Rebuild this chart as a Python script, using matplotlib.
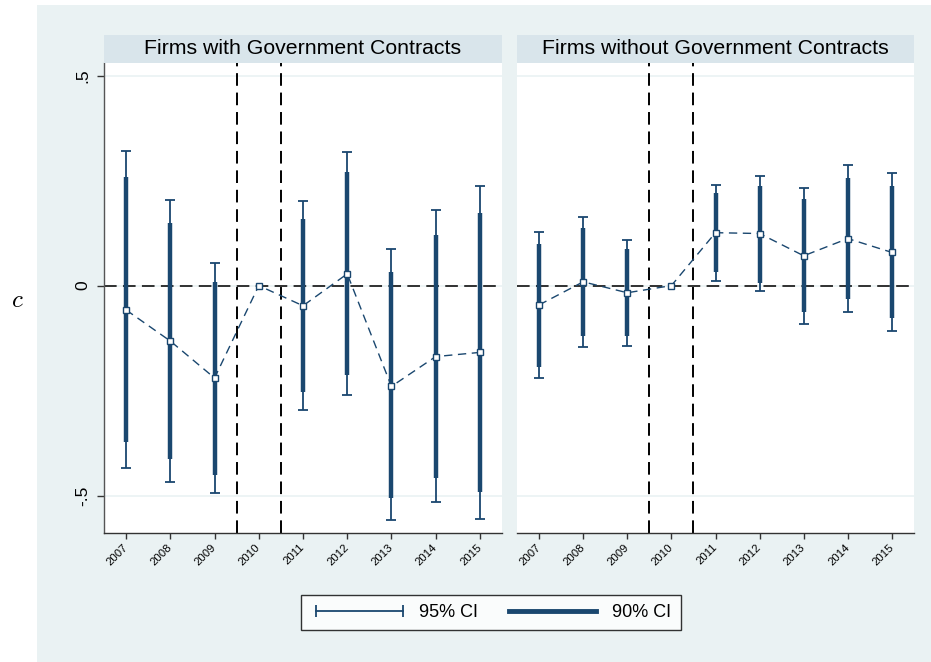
import numpy as np
import matplotlib.pyplot as plt
from matplotlib.lines import Line2D
from matplotlib.patches import Rectangle

plt.rcParams['font.family'] = ['Liberation Sans', 'DejaVu Sans']
plt.rcParams['mathtext.fontset'] = 'cm'

# event-study coefficients (2010 is the base year)
years = [2007, 2008, 2009, 2010, 2011, 2012, 2013, 2014, 2015]
nan = np.nan

withCoef = [-0.058, -0.132, -0.220, 0.0, -0.048, 0.028, -0.240, -0.169, -0.159]
withLo95 = [-0.435, -0.468, -0.494, nan, -0.295, -0.261, -0.558, -0.515, -0.556]
withHi95 = [0.320, 0.204, 0.054, nan, 0.201, 0.319, 0.086, 0.179, 0.238]
withLo90 = [-0.373, -0.413, -0.451, nan, -0.254, -0.214, -0.506, -0.458, -0.492]
withHi90 = [0.258, 0.149, 0.009, nan, 0.159, 0.271, 0.033, 0.121, 0.174]

withoutCoef = [-0.046, 0.009, -0.017, 0.0, 0.126, 0.124, 0.071, 0.112, 0.079]
withoutLo95 = [-0.219, -0.145, -0.143, nan, 0.012, -0.014, -0.092, -0.064, -0.109]
withoutHi95 = [0.128, 0.164, 0.109, nan, 0.240, 0.260, 0.233, 0.288, 0.269]
withoutLo90 = [-0.193, -0.119, -0.121, nan, 0.033, 0.007, -0.064, -0.033, -0.076]
withoutHi90 = [0.100, 0.138, 0.088, nan, 0.221, 0.236, 0.207, 0.257, 0.238]

panelTitles = ['Firms with Government Contracts', 'Firms without Government Contracts']
yTicks = [-0.5, 0, 0.5]
yTickLabels = ['-.5', '0', '.5']
eventLines = [2009.5, 2010.5]

navy = '#1a476f'
bgColor = '#eaf2f3'
stripColor = '#d9e5eb'

W, H = 931, 662
fig = plt.figure(figsize=(W / 100, H / 100), dpi=100, facecolor='white')
fig.patches.append(Rectangle((37 / W, 0), 1 - 37 / W, 1 - 5 / H, transform=fig.transFigure,
                             facecolor=bgColor, edgecolor='none', zorder=-10))

bottom = 1 - 533 / H
top = 1 - 63 / H
stripTop = 1 - 35 / H
panelX = [(104, 502), (517, 914)]
series = [
    (withCoef, withLo95, withHi95, withLo90, withHi90),
    (withoutCoef, withoutLo95, withoutHi95, withoutLo90, withoutHi90),
]

for i, ((x0, x1), (coef, lo95, hi95, lo90, hi90)) in enumerate(zip(panelX, series)):
    ax = fig.add_axes([x0 / W, bottom, (x1 - x0) / W, top - bottom])
    ax.set_facecolor('white')
    coef = np.array(coef)
    lo95, hi95 = np.array(lo95), np.array(hi95)
    lo90, hi90 = np.array(lo90), np.array(hi90)

    for yv in yTicks:
        ax.axhline(yv, color=bgColor, lw=1.2, zorder=0)
    ax.axhline(0, color='#222222', lw=1.3, dashes=(7, 3.5), zorder=1)
    for xv in eventLines:
        ax.axvline(xv, color='black', lw=1.4, dashes=(6.5, 3.5), zorder=1)

    ax.errorbar(years, coef, yerr=[coef - lo95, hi95 - coef], fmt='none', ecolor=navy,
                elinewidth=1.3, capsize=3.6, capthick=1.3, zorder=2)
    ax.vlines(years, lo90, hi90, color=navy, lw=3.2, zorder=3)
    ax.plot(years, coef, color=navy, lw=1.0, dashes=(6, 4), marker='s', ms=3.8,
            mfc='white', mec=navy, mew=1.0, zorder=4)

    ax.set_xlim(2006.5, 2015.5)
    ax.set_ylim(-0.589, 0.530)
    ax.set_xticks(years)
    ax.set_xticklabels([str(y) for y in years], rotation=45, ha='right', va='center',
                       rotation_mode='anchor', fontsize=8.2)
    ax.tick_params(axis='x', length=4, width=1, color='#333333', pad=5)
    for s in ['top', 'right']:
        ax.spines[s].set_visible(False)
    ax.spines['bottom'].set_color('#333333')
    ax.spines['bottom'].set_linewidth(1)
    if i == 0:
        ax.set_yticks(yTicks)
        ax.set_yticklabels(yTickLabels, rotation=90, va='center', fontsize=12.5)
        ax.tick_params(axis='y', length=5, width=1, color='#333333', pad=5)
        ax.spines['left'].set_color('#555555')
        ax.spines['left'].set_linewidth(1)
    else:
        ax.set_yticks(yTicks)
        ax.tick_params(axis='y', left=False, labelleft=False)
        ax.spines['left'].set_visible(False)

    strip = fig.add_axes([x0 / W, top, (x1 - x0) / W, stripTop - top])
    strip.set_facecolor(stripColor)
    strip.set_xticks([])
    strip.set_yticks([])
    for s in strip.spines.values():
        s.set_visible(False)
    strip.text(0.5, 0.5, panelTitles[i], ha='center', va='center', fontsize=15.3,
               transform=strip.transAxes)

fig.text(17 / W, 1 - 300 / H, r'$c$', fontsize=18, ha='center', va='center')

h95 = Line2D([], [], color=navy, lw=1.3, marker='|', ms=9, mew=1.3)
h90 = Line2D([], [], color=navy, lw=3.5)
leg = fig.legend([h95, h90], ['95% CI', '90% CI'], loc='center',
                 bbox_to_anchor=(491 / W, 1 - 612.5 / H), ncol=2, numpoints=2,
                 handlelength=5.4, handletextpad=0.6, columnspacing=1.45, fontsize=13,
                 frameon=True, fancybox=False, edgecolor='black', borderpad=0.5)
leg.get_frame().set_linewidth(1.0)

fig.savefig('out.png', dpi=100, facecolor='white')
